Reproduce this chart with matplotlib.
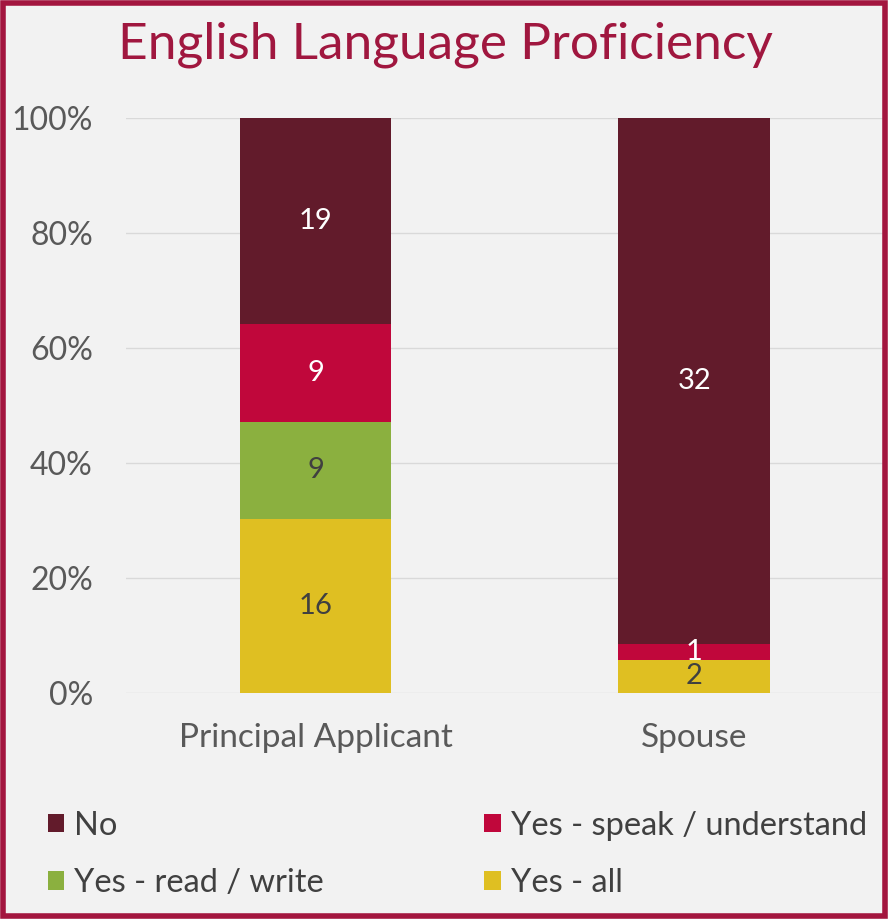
import numpy as np
import matplotlib.pyplot as plt
from matplotlib.patches import Rectangle

plt.rcParams['font.family'] = ['Lato', 'DejaVu Sans']

# data (counts per group)
groups = ["Principal Applicant", "Spouse"]
series = ["Yes - all", "Yes - read / write", "Yes - speak / understand", "No"]
yes_all = [16, 2]
yes_read_write = [9, 0]
yes_speak = [9, 1]
no = [19, 32]

colors = {"No": "#621b2b", "Yes - speak / understand": "#c0073b",
          "Yes - read / write": "#8bb03f", "Yes - all": "#dfbf22"}
label_colors = {"No": "white", "Yes - speak / understand": "white",
                "Yes - read / write": "#404040", "Yes - all": "#404040"}

values = np.array([yes_all, yes_read_write, yes_speak, no], dtype=float)
totals = values.sum(axis=0)
shares = values / totals * 100

fig = plt.figure(figsize=(8.88, 9.19), dpi=100, facecolor="#f2f2f2")
ax = fig.add_axes([0.142, 0.246, 0.853, 0.626])
ax.set_facecolor("#f2f2f2")

x = np.arange(len(groups))
bottom = np.zeros(len(groups))
for name, share, count in zip(series, shares, values):
    ax.bar(x, share, 0.4, bottom=bottom, color=colors[name], label=name, zorder=3)
    # count labels centred in each segment
    for xi, b, s, c in zip(x, bottom, share, count):
        if c > 0:
            ax.text(xi, b + s / 2, f"{int(c)}", ha="center", va="center",
                    fontsize=21, color=label_colors[name], zorder=4)
    bottom += share

ax.set_xlim(-0.5, 1.5)
ax.set_ylim(0, 100)
ax.set_yticks(np.arange(0, 101, 20))
ax.set_yticklabels([f"{v}%" for v in range(0, 101, 20)])
ax.set_xticks(x)
ax.set_xticklabels(groups)
ax.tick_params(axis="y", length=0, labelsize=23, labelcolor="#595959", pad=24)
ax.tick_params(axis="x", length=0, labelsize=24, labelcolor="#595959", pad=22)
ax.grid(axis="y", color="#d9d9d9", linewidth=1, zorder=0)
for sp in ax.spines.values():
    sp.set_visible(False)

fig.text(0.502, 0.951, "English Language Proficiency", ha="center", va="center",
         fontsize=37, color="#a0173f")

handles, labels = ax.get_legend_handles_labels()
order = [3, 1, 2, 0]
fig.legend([handles[i] for i in order], [labels[i] for i in order],
           loc="upper left", bbox_to_anchor=(0.054, 0.0, 0.922, 0.118), mode="expand",
           ncol=2, frameon=False, fontsize=23.5, labelcolor="#404040",
           borderpad=0, borderaxespad=0,
           handlelength=0.5, handleheight=0.5, handletextpad=0.3,
           columnspacing=1.0, labelspacing=0.85)

fig.patches.append(Rectangle((0.003, 0.003), 0.994, 0.994, transform=fig.transFigure,
                             fill=False, edgecolor="#a3163f", linewidth=4))

fig.savefig("out.png", dpi=100, facecolor=fig.get_facecolor())
